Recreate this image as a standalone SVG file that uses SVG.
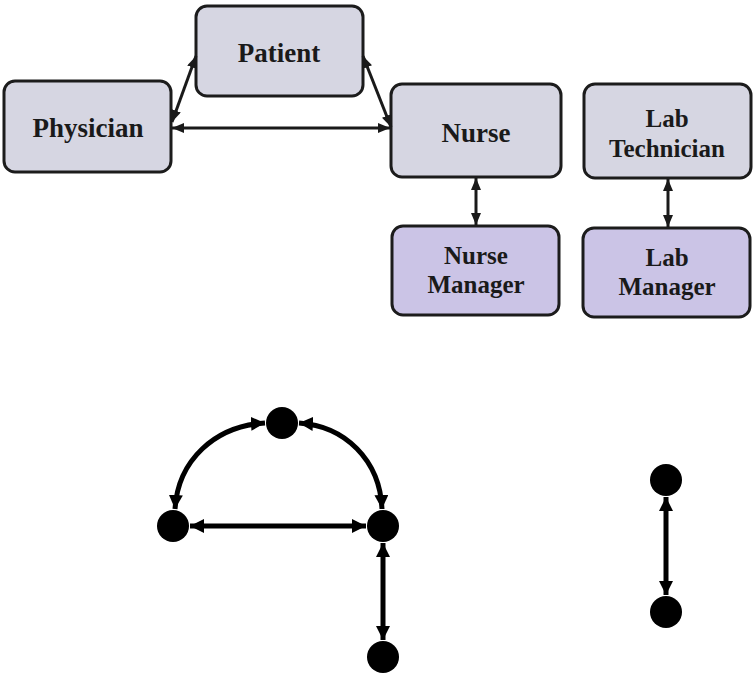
<svg xmlns="http://www.w3.org/2000/svg" width="753" height="677" viewBox="0 0 753 677">
  <style>
    .box { fill: #d6d6e2; stroke: #1c1c1c; stroke-width: 3; }
    .mgr { fill: #cbc4e6; }
    .lbl { font-family: "Liberation Serif", "Times New Roman", serif; font-weight: bold; font-size: 27px; fill: #1a1a1a; text-anchor: middle; }
    .two { font-size: 25px; }
    .link { fill: none; stroke: #1a1a1a; stroke-width: 3; marker-start: url(#tip); marker-end: url(#tip); }
    .edge { fill: none; stroke: #000; stroke-width: 5; marker-start: url(#bigtip); marker-end: url(#bigtip); }
    .dot { fill: #000; }
  </style>
  <defs>
    <marker id="tip" viewBox="0 0 12 10" refX="12" refY="5" markerWidth="12" markerHeight="10" markerUnits="userSpaceOnUse" orient="auto-start-reverse">
      <path d="M0,0 L12,5 L0,10 Z" fill="#1a1a1a"/>
    </marker>
    <marker id="bigtip" viewBox="0 0 14 14" refX="14" refY="7" markerWidth="14" markerHeight="14" markerUnits="userSpaceOnUse" orient="auto-start-reverse">
      <path d="M0,0 L14,7 L0,14 Z" fill="#000"/>
    </marker>
  </defs>

  <!-- role boxes -->
  <g id="patient">
    <rect class="box" x="196" y="6" width="167" height="90" rx="11"/>
    <text class="lbl" x="279" y="62">Patient</text>
  </g>
  <g id="physician">
    <rect class="box" x="4" y="81" width="167" height="91" rx="11"/>
    <text class="lbl" x="88" y="137">Physician</text>
  </g>
  <g id="nurse">
    <rect class="box" x="391" y="84" width="170" height="93" rx="11"/>
    <text class="lbl" x="476" y="142">Nurse</text>
  </g>
  <g id="lab-technician">
    <rect class="box" x="584" y="84" width="167" height="94" rx="11"/>
    <text class="lbl two" x="667" y="127">Lab</text>
    <text class="lbl two" x="667" y="157">Technician</text>
  </g>
  <g id="nurse-manager">
    <rect class="box mgr" x="392" y="226" width="167" height="89" rx="11"/>
    <text class="lbl two" x="476" y="264">Nurse</text>
    <text class="lbl two" x="476" y="293">Manager</text>
  </g>
  <g id="lab-manager">
    <rect class="box mgr" x="583" y="228" width="167" height="89" rx="11"/>
    <text class="lbl two" x="667" y="266">Lab</text>
    <text class="lbl two" x="667" y="295">Manager</text>
  </g>

  <!-- links between roles -->
  <g id="role-links">
    <line class="link" x1="172" y1="122" x2="196" y2="56"/>
    <line class="link" x1="363" y1="56" x2="391" y2="127"/>
    <line class="link" x1="172" y1="128" x2="390" y2="128"/>
    <line class="link" x1="476" y1="178" x2="476" y2="225"/>
    <line class="link" x1="668" y1="179" x2="668" y2="227"/>
  </g>

  <!-- abstract graph -->
  <g id="graph-edges">
    <path class="edge" d="M265,423 C215,426 178,460 175,509"/>
    <path class="edge" d="M299,423 C345,426 380,460 382,509"/>
    <line class="edge" x1="190" y1="526" x2="366" y2="526"/>
    <line class="edge" x1="383" y1="543" x2="383" y2="640"/>
    <line class="edge" x1="666" y1="497" x2="666" y2="595"/>
  </g>
  <g id="n-patient"><circle class="dot" cx="282" cy="423" r="16"/></g>
  <g id="n-physician"><circle class="dot" cx="173" cy="526" r="16"/></g>
  <g id="n-nurse"><circle class="dot" cx="383" cy="526" r="16"/></g>
  <g id="n-nurse-manager"><circle class="dot" cx="383" cy="657" r="16"/></g>
  <g id="n-lab-technician"><circle class="dot" cx="666" cy="480" r="16"/></g>
  <g id="n-lab-manager"><circle class="dot" cx="666" cy="612" r="16"/></g>
</svg>
